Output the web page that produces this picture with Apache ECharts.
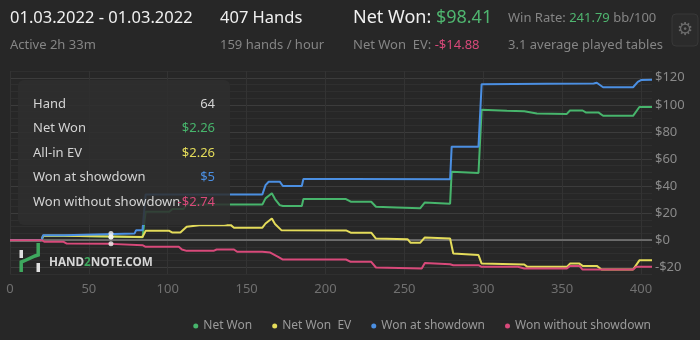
<!DOCTYPE html>
<html><head><meta charset="utf-8">
<script src="https://cdn.jsdelivr.net/npm/echarts@6/dist/echarts.min.js"></script>
<style>html,body{margin:0;padding:0;background:#272727;}#c{width:700px;height:340px;}</style>
</head><body><div id="c"></div>
<script>
// ---- data: [hand, dollars] vertices ----
const netWon = [[0,0],[20,0],[21,3.2],[34,3.2],[35,2.3],[79,2.3],[84,2.1],[86,21],[101,21],[103,23],[110,23],[112,26.4],[160,26.4],[162,30.9],[166,34.6],[168,30.4],[171,25.9],[173,25.2],[185,25.2],[186,30.4],[213,30.4],[216,28.4],[229,28.4],[232,24.7],[245,24.2],[260,23.5],[263,27.9],[279,27],[280,50.6],[297,49.6],[299,96.3],[315,95.6],[326,95.2],[334,93.6],[353,93.3],[355,95.8],[363,95.8],[365,94.4],[373,94.4],[376,91.9],[395,91.9],[399,98.4],[407,98.4]];
const netWonEV = [[0,0],[20,0],[21,3.2],[34,3.2],[35,2.3],[84,2.3],[86,6.9],[101,6.9],[103,5.6],[108,5.6],[112,9.9],[120,11.1],[140,11.1],[142,9.2],[160,9.2],[162,12.3],[166,16],[168,11.9],[172,7.4],[213,7.2],[216,5.5],[229,5.5],[232,1.2],[252,0.7],[254,-2],[260,-2],[263,2],[279,1.2],[281,-9.9],[297,-11],[299,-17.3],[326,-18],[328,-19.7],[353,-19.7],[355,-17.3],[361,-17.3],[363,-19],[372,-19],[375,-21.7],[395,-21.7],[399,-14.9],[407,-14.9]];
const wonShowdown = [[0,0],[20,0],[21,3.7],[34,3.7],[35,5],[79,5],[80,7.4],[84,7.4],[86,33.8],[160,33.8],[162,40.7],[164,43.2],[171,43.2],[173,40],[185,40],[186,45.2],[215,45.2],[279,45],[280,69.1],[297,69.1],[299,115.3],[340,115.6],[370,115.8],[372,116.3],[376,113],[395,113],[398,117],[400,118.3],[407,118.5]];
const wonNoShowdown = [[0,0],[20,0],[22,-1.2],[34,-1.2],[36,-2.5],[64,-2.74],[84,-3.7],[86,-4.9],[107,-4.9],[109,-6.9],[112,-7.9],[129,-7.9],[131,-6.9],[142,-6.9],[144,-8.6],[160,-8.6],[165,-9.2],[170,-12.3],[173,-14.3],[213,-14.3],[216,-16],[229,-16],[232,-20.2],[261,-21],[263,-16.8],[279,-17.8],[281,-18.5],[297,-18.5],[299,-19.7],[322,-19.7],[326,-21],[353,-21],[355,-19],[361,-19],[363,-21.7],[395,-21.7],[397,-19.7],[407,-19.7]];
const seriesNames = ['Net Won', 'Net Won  EV', 'Won at showdown', 'Won without showdown'];
const hoverHand = 64;
const hoverValues = [2.26, 2.26, 5, -2.74];
const tooltipLabels = ['Hand', 'Net Won', 'All-in EV', 'Won at showdown', 'Won without showdown'];
const tooltipTexts = ['64', '$2.26', '$2.26', '$5', '-$2.74'];

const COLORS = ['#47b56c', '#e4dc5a', '#4b8fe2', '#d8497a'];
const FONT = 'Noto Sans';
const chart = echarts.init(document.getElementById('c'));

function money(v){ return v < 0 ? '-$' + Math.abs(v) : '$' + v; }

const allData = [netWon, netWonEV, wonShowdown, wonNoShowdown];
const series = allData.map((d, i) => ({
  name: seriesNames[i], type: 'line', data: d, showSymbol: false, symbol: 'circle',
  lineStyle: { width: 2, color: COLORS[i] }, itemStyle: { color: COLORS[i] },
  z: 3 + i,
  markLine: i === 0 ? { silent: true, symbol: 'none', label: { show: false },
    lineStyle: { color: '#7c7c7c', width: 1.5, type: 'solid' }, data: [{ yAxis: 0 }], z: 1 } : undefined
}));
series.push({
  type: 'scatter', name: 'hover', data: hoverValues.map(v => [hoverHand, v]),
  symbolSize: 5, itemStyle: { color: '#f2f2f2' }, z: 10, silent: true
});

const TZ = 200;
const tipRows = tooltipLabels.map((t, i) => ({ type: 'text', z: TZ + 1, x: 33, y: 104 + i * 24.5,
  style: { text: t, fill: '#d4d4d4', font: '13px "' + FONT + '"', textVerticalAlign: 'middle' } }));
const tipVals = tooltipTexts.map((t, i) => ({ type: 'text', z: TZ + 1, x: 215, y: 104 + i * 24.5,
  style: { text: t, fill: i === 0 ? '#d4d4d4' : COLORS[i - 1], font: '13px "' + FONT + '"', textAlign: 'right', textVerticalAlign: 'middle' } }));

chart.setOption({
  animation: false,
  backgroundColor: '#272727',
  grid: { left: 10, right: 48, top: 71, bottom: 66 },
  legend: {
    data: seriesNames, right: 44, top: 315, icon: 'circle', itemWidth: 5, itemHeight: 5, itemGap: 20,
    textStyle: { color: '#9a9a9a', fontSize: 12, fontFamily: FONT }
  },
  xAxis: {
    type: 'value', min: 0, max: 407, interval: 50,
    axisLine: { show: false }, axisTick: { show: false },
    axisLabel: { color: '#707070', fontSize: 13, fontFamily: FONT, margin: 9, showMaxLabel: false },
    splitLine: { show: true, lineStyle: { width: 1, color: ['#333','#333','#333','#333','#333','#333','#333','#333','#333','rgba(0,0,0,0)'] } }
  },
  yAxis: {
    type: 'value', position: 'right', min: -25, max: 125, interval: 5,
    axisLine: { show: false }, axisTick: { show: false },
    axisLabel: { color: '#8a8a8a', fontSize: 13, fontFamily: FONT, margin: 3,
      formatter: v => (v % 20 === 0 ? money(v) : '') },
    splitLine: { show: true, lineStyle: { width: 1, color: ['#2f2f2f', '#3c3c3c', '#2f2f2f', '#2f2f2f'] } }
  },
  series: series,
  graphic: [
    // header
    { type: 'text', x: 10, y: 18, style: { text: '01.03.2022 - 01.03.2022', fill: '#f0f0f0', font: '16.5px "' + FONT + '"', textVerticalAlign: 'middle' } },
    { type: 'text', x: 10, y: 45, style: { text: 'Active 2h 33m', fill: '#858585', font: '13px "' + FONT + '"', textVerticalAlign: 'middle' } },
    { type: 'text', x: 220, y: 18, style: { text: '407 Hands', fill: '#f0f0f0', font: '16.5px "' + FONT + '"', textVerticalAlign: 'middle' } },
    { type: 'text', x: 220, y: 45, style: { text: '159 hands / hour', fill: '#858585', font: '13px "' + FONT + '"', textVerticalAlign: 'middle' } },
    { type: 'text', x: 353, y: 18, style: { text: '{a|Net Won: }{g|$98.41}', textVerticalAlign: 'middle',
      rich: { a: { fill: '#f0f0f0', font: '18px "' + FONT + '"' }, g: { fill: '#4fb56f', font: '18px "' + FONT + '"' } } } },
    { type: 'text', x: 353, y: 45, style: { text: '{a|Net Won  EV: }{p|-$14.88}', textVerticalAlign: 'middle',
      rich: { a: { fill: '#858585', font: '13px "' + FONT + '"' }, p: { fill: '#d8497a', font: '13px "' + FONT + '"' } } } },
    { type: 'text', x: 508, y: 18, style: { text: '{a|Win Rate: }{g|241.79}{a| bb/100}', textVerticalAlign: 'middle',
      rich: { a: { fill: '#858585', font: '13px "' + FONT + '"' }, g: { fill: '#4fb56f', font: '13px "' + FONT + '"' } } } },
    { type: 'text', x: 508, y: 45, style: { text: '3.1 average played tables', fill: '#858585', font: '13px "' + FONT + '"', textVerticalAlign: 'middle' } },
    { type: 'rect', shape: { x: 672, y: 14, width: 26, height: 32, r: 4 }, style: { fill: '#2b2b2b', stroke: '#383838', lineWidth: 1 } },
    { type: 'text', x: 685, y: 30, style: { text: '⚙', fill: '#6a6a6a', font: '18px "DejaVu Sans"', textAlign: 'center', textVerticalAlign: 'middle' } },
    // watermark logo
    { type: 'rect', z: 50, shape: { x: 19.5, y: 250, width: 3.5, height: 8 }, style: { fill: '#e0e0e0' } },
    { type: 'rect', z: 50, shape: { x: 36.5, y: 263, width: 3.5, height: 9 }, style: { fill: '#e0e0e0' } },
    { type: 'polyline', z: 50, shape: { points: [[21.2, 272], [21.2, 262], [24, 261], [35, 256], [38.2, 255], [38.2, 243]] }, style: { stroke: '#3ea85e', lineWidth: 3.5, fill: null } },
    { type: 'text', z: 50, x: 49, y: 262, scaleX: 0.9, style: { text: '{w|HAND}{g|2}{w|NOTE.COM}', textVerticalAlign: 'middle',
      rich: { w: { fill: '#d6d6d6', font: 'bold 13px "' + FONT + '"' }, g: { fill: '#3ea85e', font: 'bold 13px "' + FONT + '"' } } } },
    // tooltip box
    { type: 'rect', z: TZ, shape: { x: 18, y: 80, width: 212, height: 145, r: 6 }, style: { fill: 'rgba(46,46,46,0.86)' } }
  ].concat(tipRows, tipVals)
});
</script></body></html>
